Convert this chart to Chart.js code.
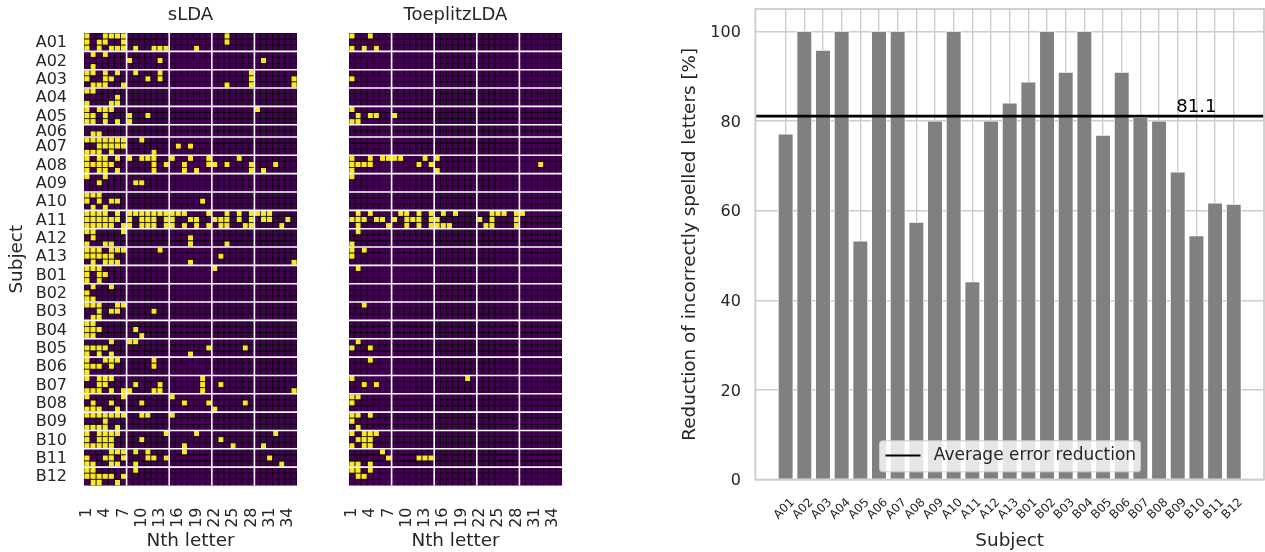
<!DOCTYPE html>
<html>
<head>
<meta charset="utf-8">
<title>Error reduction per subject</title>
<script src="https://cdn.jsdelivr.net/npm/chart.js@4/dist/chart.umd.min.js"></script>
<style>
  html, body { margin: 0; padding: 0; background: #fff; overflow: hidden; }
  canvas { position: absolute; top: 0; }
  #sldaChart { left: 0; }
  #toeplitzChart { left: 310px; }
  #reductionChart { left: 660px; }
</style>
</head>
<body>
<canvas id="sldaChart" width="310" height="552"></canvas>
<canvas id="toeplitzChart" width="265" height="552"></canvas>
<canvas id="reductionChart" width="605" height="552"></canvas>
<script>
const subjects = ['A01','A02','A03','A04','A05','A06','A07','A08','A09','A10','A11','A12','A13',
  'B01','B02','B03','B04','B05','B06','B07','B08','B09','B10','B11','B12'];
const letterTicks = [1,4,7,10,13,16,19,22,25,28,31,34];
const letterCount = 35;
const blockEdges = [7.5,14.5,21.5,28.5];
const reductionTicks = [0,20,40,60,80,100];

// one entry per subject, one list per trial, holding the letters (0-based) that were misspelled
const sldaErrors = [
  [[0,3,4,5,6,23],[0,2,3,6,23],[0,2,4,5,6,8,11,12,13,18]],
  [[1,3],[7,12,29],[1]],
  [[0,1,3,5,8,12,27],[0,3,4,10,12,27,34],[1,2,3,6,23,27,34]],
  [[0,1],[5],[0,4,5]],
  [[0,2,3,4,28],[0,1,3,7,10],[0,1,3,5,7]],
  [[],[1,2]],
  [[0,1,2,3,4,5,6,9],[2,3,4,5,6,15,17],[0,1,2,4,11]],
  [[0,2,3,5,7,9,10,11,14,17,20,25],[0,1,2,3,4,11,13,16,20,21,23,27,31],[0,2,3,5,11,16,18,27,29]],
  [[0,3],[2,8,9],[]],
  [[0,1,2],[0,2,4,5,19],[1,3]],
  [[0,1,2,3,5,7,8,9,10,11,12,13,14,15,16,20,23,25,27,28,29,30],
   [0,1,2,3,4,5,7,9,10,11,13,14,17,18,21,22,23,25,27,29,30,33],
   [0,1,2,3,4,6,7,9,10,11,13,14,16,18,20,22,23,26,27,32]],
  [[0,1,6],[1,17],[0,3,4,17,23]],
  [[0,1,2,4,5,6,12],[0,1,2,3,4,22],[1,3,4,5,17,34]],
  [[0,1,2,21],[0,2,3],[0,2]],
  [[1,4],[0],[0,1]],
  [[0,1,2,5,6],[2,4,5,11],[1,2]],
  [[0,1],[0,1,2,8],[0,1,9]],
  [[4,7,8],[0,1,2,3,20,26],[0,2,4,17]],
  [[0,3,4,5,11],[0,1,2,4,11],[0]],
  [[0,2,3,4,19],[2,3,8,12,19,22],[0,1,2,4,6,7,11,12,19,34]],
  [[0,6,14],[1,4,9,16,20,26],[0,1,2,5,21]],
  [[0,1,2,3,4,5,6,9,10,14],[3],[0,1,2,3,5]],
  [[0,2,3,4,5,13,18,31],[0,2,3,4,9,22],[0,1,2,3,4,16,24,29]],
  [[4,5,6,8,10,16],[0,3,4,6,10,11,13,30],[0,1,4,5,8,32]],
  [[0,1,8],[0,1,2,3,4,6],[1,2,5]]
];
const toeplitzErrors = [
  [[0,3],[],[0,2,4]],
  [[],[],[]],
  [[],[0],[]],
  [[],[],[]],
  [[0],[1,3,4,7],[0,1]],
  [[],[]],
  [[],[],[]],
  [[0,3,5,6,7,8,12,14],[0,1,2,3,11,13,31],[0,14]],
  [[0],[],[]],
  [[],[],[]],
  [[1,3,8,9,11,13,15,17,23,24,25,27,28],
   [0,1,2,4,5,7,9,10,11,13,14,21,23,27],
   [1,6,9,11,13,14,15,16,22,23,27]],
  [[1],[],[0]],
  [[0,2],[0],[]],
  [[1],[],[]],
  [[],[],[]],
  [[2],[],[]],
  [[],[],[]],
  [[1],[0,3],[]],
  [[3],[],[]],
  [[0,19],[2,4],[]],
  [[0,1],[0],[]],
  [[0,1,3],[0],[1]],
  [[0,2,3,4],[1,2,3],[0,2,3]],
  [[5],[6,11,12,13],[0,1,3]],
  [[0,1,3],[1,2],[]]
];
const reduction = [77.1,100,95.8,100,53.2,100,100,57.4,80,100,44.1,80,84,88.7,100,90.9,100,76.8,90.9,80.8,80,68.6,54.4,61.7,61.4];
const averageReduction = 81.1;

const FONT = 'DejaVu Sans';
const INK = '#262626';
const FRAME = '#cccccc';
const CELL_OFF = '#440154';
const CELL_ON = '#fde725';
const BAR_X_MIN = -1.62;
const BAR_X_MAX = subjects.length - 1 + 1.62;

// row where each subject starts, A06 only has two trials
const rowStarts = [];
let rowCount = 0;
sldaErrors.forEach(trials => { rowStarts.push(rowCount); rowCount += trials.length; });

// the tick padding would otherwise be added around the chart area as well
function noScalePadding(scale) {
  scale.paddingLeft = scale.paddingRight = scale.paddingTop = scale.paddingBottom = 0;
}

// ── 1. Heatmaps ──
function cellPoints(errors, wanted) {
  const points = [];
  errors.forEach((trials, s) => {
    trials.forEach((hits, t) => {
      for (let col = 0; col < letterCount; col++) {
        if (hits.includes(col) === wanted) points.push({ x: col + 1, y: rowStarts[s] + t + 0.5 });
      }
    });
  });
  return points;
}

const separators = {
  id: 'separators',
  afterDatasetsDraw(chart) {
    const { ctx, chartArea: a, scales } = chart;
    ctx.save();
    ctx.strokeStyle = '#ffffff';
    ctx.lineWidth = 1.6;
    ctx.beginPath();
    blockEdges.forEach(v => {
      const x = scales.x.getPixelForValue(v);
      ctx.moveTo(x, a.top);
      ctx.lineTo(x, a.bottom);
    });
    rowStarts.slice(1).forEach(v => {
      const y = scales.y.getPixelForValue(v);
      ctx.moveTo(a.left, y);
      ctx.lineTo(a.right, y);
    });
    ctx.stroke();
    ctx.restore();
  }
};

function heatmap(id, name, errors, padding, showSubjects) {
  const cellStyle = color => ({
    backgroundColor: color,
    borderColor: '#000000',
    borderWidth: 0.7,
    pointStyle: 'rect',
    pointRadius: 4.32,
    pointHoverRadius: 4.32
  });
  return new Chart(document.getElementById(id), {
    type: 'scatter',
    data: {
      datasets: [
        { data: cellPoints(errors, false), ...cellStyle(CELL_OFF) },
        { data: cellPoints(errors, true), ...cellStyle(CELL_ON) }
      ]
    },
    options: {
      responsive: false,
      animation: false,
      events: [],
      layout: { autoPadding: false, padding },
      plugins: {
        legend: { display: false },
        tooltip: { enabled: false },
        title: {
          display: true,
          fullSize: false,
          text: name,
          color: INK,
          font: { family: FONT, size: 18, weight: 'normal' },
          padding: { top: 5, bottom: 6.4 }
        }
      },
      scales: {
        x: {
          type: 'linear',
          min: 0.5,
          max: letterCount + 0.5,
          afterBuildTicks: scale => { scale.ticks = letterTicks.map(value => ({ value })); },
          afterFit: scale => { scale.height = 66.5; noScalePadding(scale); },
          grid: { display: false },
          border: { display: false },
          ticks: {
            autoSkip: false,
            minRotation: 90,
            maxRotation: 90,
            padding: 14,
            color: INK,
            font: { family: FONT, size: 16 },
            callback: v => String(v)
          },
          title: {
            display: true,
            text: 'Nth letter',
            color: INK,
            font: { family: FONT, size: 18.4 },
            padding: { top: 0, bottom: 0 }
          }
        },
        y: {
          type: 'linear',
          display: showSubjects,
          reverse: true,
          min: 0,
          max: rowCount,
          afterBuildTicks: scale => {
            scale.ticks = subjects.map((s, i) => ({ value: rowStarts[i] + sldaErrors[i].length / 2 }));
          },
          afterFit: scale => { scale.width = showSubjects ? 84 : 0; noScalePadding(scale); },
          grid: { display: false },
          border: { display: false },
          ticks: {
            autoSkip: false,
            padding: 9,
            labelOffset: 1,
            color: INK,
            font: { family: FONT, size: 16 },
            callback: (v, i) => subjects[i]
          },
          title: {
            display: showSubjects,
            text: 'Subject',
            color: INK,
            font: { family: FONT, size: 18.4 },
            padding: { top: 6, bottom: 0 }
          }
        }
      }
    },
    plugins: [separators]
  });
}

// ── 2. Bars with the average line ──
const barDecor = {
  id: 'barDecor',
  afterDatasetsDraw(chart) {
    const { ctx, chartArea: a, scales } = chart;
    ctx.save();

    // frame on all four sides
    ctx.strokeStyle = FRAME;
    ctx.lineWidth = 1.8;
    ctx.strokeRect(a.left, a.top, a.right - a.left, a.bottom - a.top);

    // average value above the line
    ctx.fillStyle = '#000000';
    ctx.font = '18px "' + FONT + '"';
    ctx.textAlign = 'center';
    ctx.textBaseline = 'alphabetic';
    ctx.fillText(String(averageReduction), scales.x.getPixelForValue(22), scales.y.getPixelForValue(averageReduction) - 4);

    // legend
    ctx.beginPath();
    ctx.roundRect(219.5, 440.8, 261, 31, 3);
    ctx.fillStyle = 'rgba(255,255,255,0.8)';
    ctx.fill();
    ctx.strokeStyle = FRAME;
    ctx.lineWidth = 1;
    ctx.stroke();
    ctx.beginPath();
    ctx.moveTo(225.5, 455.5);
    ctx.lineTo(260.5, 455.5);
    ctx.strokeStyle = '#000000';
    ctx.lineWidth = 2.2;
    ctx.stroke();
    ctx.fillStyle = INK;
    ctx.font = '17px "' + FONT + '"';
    ctx.textAlign = 'left';
    ctx.textBaseline = 'middle';
    ctx.fillText('Average error reduction', 273.8, 455.5);
    ctx.restore();
  }
};

function reductionBars() {
  return new Chart(document.getElementById('reductionChart'), {
    data: {
      datasets: [
        {
          type: 'line',
          label: 'Average error reduction',
          data: [{ x: BAR_X_MIN, y: averageReduction }, { x: BAR_X_MAX, y: averageReduction }],
          borderColor: '#000000',
          borderWidth: 2.6,
          pointRadius: 0,
          order: 0
        },
        {
          type: 'bar',
          label: 'Reduction',
          data: reduction.map((y, x) => ({ x, y })),
          backgroundColor: '#808080',
          borderColor: '#ffffff',
          borderWidth: 0.8,
          barThickness: 14.9,
          order: 1
        }
      ]
    },
    options: {
      responsive: false,
      animation: false,
      events: [],
      layout: { autoPadding: false, padding: { top: 9, right: 1, left: 0, bottom: 0 } },
      plugins: { legend: { display: false }, tooltip: { enabled: false } },
      scales: {
        x: {
          type: 'linear',
          offset: false,
          min: BAR_X_MIN,
          max: BAR_X_MAX,
          afterBuildTicks: scale => { scale.ticks = subjects.map((s, value) => ({ value })); },
          afterFit: scale => { scale.height = 72.5; noScalePadding(scale); },
          grid: { offset: false, color: FRAME, lineWidth: 1.4, drawTicks: false },
          border: { display: false },
          ticks: {
            autoSkip: false,
            minRotation: 45,
            maxRotation: 45,
            padding: 16,
            labelOffset: 7,
            color: INK,
            font: { family: FONT, size: 12 },
            callback: (v, i) => subjects[i]
          },
          title: {
            display: true,
            text: 'Subject',
            color: INK,
            font: { family: FONT, size: 18.4 },
            padding: { top: 0, bottom: 0 }
          }
        },
        y: {
          type: 'linear',
          min: 0,
          max: 105,
          afterBuildTicks: scale => { scale.ticks = reductionTicks.map(value => ({ value })); },
          afterFit: scale => { scale.width = 95.4; noScalePadding(scale); },
          grid: { color: FRAME, lineWidth: 1.4, drawTicks: false },
          border: { display: false },
          ticks: {
            padding: 14.5,
            labelOffset: 1.5,
            color: INK,
            font: { family: FONT, size: 16 },
            callback: v => String(v)
          },
          title: {
            display: true,
            text: 'Reduction of incorrectly spelled letters [%]',
            color: INK,
            font: { family: FONT, size: 18.4 },
            padding: { top: 19, bottom: 0 }
          }
        }
      }
    },
    plugins: [barDecor]
  });
}

heatmap('sldaChart', 'sLDA', sldaErrors, { left: 0, right: 13, top: 0, bottom: 0 }, true);
heatmap('toeplitzChart', 'ToeplitzLDA', toeplitzErrors, { left: 39, right: 13, top: 0, bottom: 0 }, false);
reductionBars();
</script>
</body>
</html>
